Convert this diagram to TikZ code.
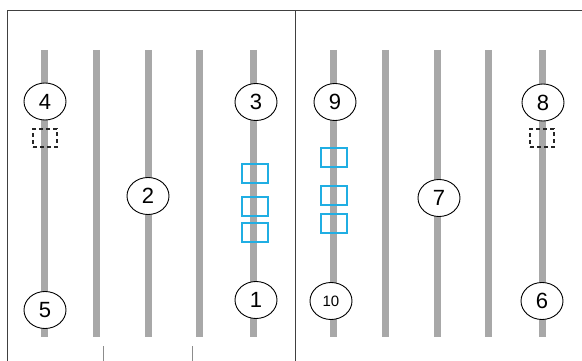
\documentclass[tikz,border=0pt]{standalone}
\usepackage{fontspec}
\setmainfont{Liberation Sans}
\usetikzlibrary{shapes.geometric}
\definecolor{rodgray}{HTML}{A8A8A8}
\definecolor{boxblue}{HTML}{20AEE3}
\tikzset{
  rod/.style={line width=7pt, rodgray},
  ball/.style={ellipse, draw=black, line width=0.9pt, fill=white, minimum width=42pt, minimum height=37pt, inner sep=0pt, font=\fontsize{22}{22}\selectfont},
  smallball/.style={ball, font=\fontsize{15}{15}\selectfont},
  dbox/.style={draw=black!85, dashed, dash pattern=on 4pt off 3pt, line width=1.3pt, minimum width=24pt, minimum height=18pt, inner sep=0pt},
  bbox/.style={draw=boxblue, line width=1.2pt, minimum width=26pt, minimum height=19pt, inner sep=0pt},
  frame/.style={draw=black!75, line width=1pt},
  tick/.style={draw=black!45, line width=0.6pt}
}
\begin{document}
\begin{tikzpicture}[x=1pt,y=-1pt]
\useasboundingbox (0,0) rectangle (582,361);
% frame
\coordinate (ftl) at (7,11);
\coordinate (fbl) at (7,361);
\coordinate (ftr) at (582,11);
\coordinate (fmt) at (295,11);
\coordinate (fmb) at (295,361);
\draw[frame] (fbl) -- (ftl) -- (ftr);
\draw[frame] (fmt) -- (fmb);
% rods
\foreach \i/\x in {a/44,b/96,c/148,d/199.5,e/253.5,f/333,g/385,h/437,i/488.5,j/542}{
  \coordinate (\i top) at (\x,50);
  \coordinate (\i bot) at (\x,337);
  \draw[rod] (\i top) -- (\i bot);
}
% dashed boxes
\node[dbox] (d4) at (45,138) {};
\node[dbox] (d8) at (542,138) {};
% blue boxes
\node[bbox] (b1) at (255,173.5) {};
\node[bbox] (b2) at (255,206.5) {};
\node[bbox] (b3) at (255,232.5) {};
\node[bbox] (b4) at (334,157.5) {};
\node[bbox] (b5) at (334,195.5) {};
\node[bbox] (b6) at (334,223.5) {};
% balls
\node[ball] (n4) at (45,101.5) {4};
\node[ball] (n3) at (256,102) {3};
\node[ball] (n2) at (148,196) {2};
\node[ball] (n5) at (45,310) {5};
\node[ball] (n1) at (256,300) {1};
\node[ball] (n9) at (335,102) {9};
\node[ball] (n8) at (543,102.5) {8};
\node[ball] (n7) at (439,198) {7};
\node[smallball] (n10) at (331,301) {10};
\node[ball] (n6) at (542,301) {6};
% bottom bracket
\coordinate (t1a) at (103,346);
\coordinate (t1b) at (103,361);
\coordinate (t2a) at (192,346);
\coordinate (t2b) at (192,361);
\draw[tick] (t1a) -- (t1b);
\draw[tick] (t2a) -- (t2b);
\end{tikzpicture}
\end{document}
